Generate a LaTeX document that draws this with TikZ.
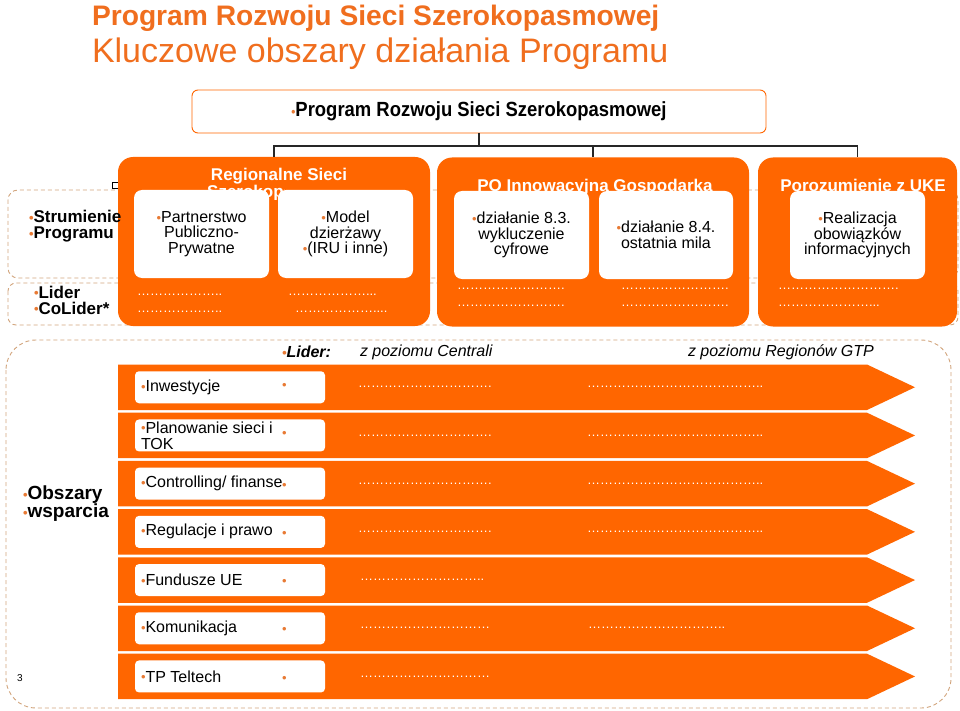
\documentclass[tikz,border=0pt]{standalone}
\usepackage{fontspec}
\setmainfont{Liberation Sans}
\newfontfamily\condfont[FakeStretch=0.9]{Liberation Sans}
\definecolor{org}{RGB}{255,102,0}
\definecolor{ttl}{RGB}{240,110,30}
\definecolor{bul}{RGB}{232,122,52}
\definecolor{dashc}{RGB}{210,165,125}
\newcommand\fs[2]{\fontsize{#1}{#2}\selectfont}
\newcommand\bult{{\color{bul}\fontsize{13}{13}\selectfont\raisebox{0.3pt}{•}}}
\ExplSyntaxOn
\NewDocumentCommand\dotrun{mm}{\prg_replicate:nn{#1}{…}\prg_replicate:nn{#2}{.}}
\ExplSyntaxOff
\begin{document}
\begin{tikzpicture}[x=1pt,y=-1pt,
  every node/.style={inner sep=0pt, outer sep=0pt},
  panel/.style={fill=org, rounded corners=15pt, minimum height=169pt},
  wbox/.style={fill=white, rounded corners=8pt, minimum width=135pt, minimum height=88pt, align=center, font=\fs{16}{15.5}, text=black},
  rbox/.style={fill=white, rounded corners=4pt, minimum width=190pt, minimum height=32pt},
  rtext/.style={anchor=west, align=left, font=\fs{16}{16}},
  dotstxt/.style={anchor=west, text=white, font=\fs{13}{13}},
  ptitle/.style={anchor=base, text=white, font=\bfseries\fs{17}{17}},
  lbl/.style={anchor=west, align=left, font=\bfseries\fs{17}{16}},
  dashbox/.style={draw=dashc, dash pattern=on 4pt off 3pt, line width=0.9pt},
  conn/.style={draw=black!85, line width=1.1pt}]
\useasboundingbox (0,0) rectangle (960,711);
\fill[white] (0,0) rectangle (960,711);
% titles
\node[anchor=base west, text=ttl, font=\bfseries\fs{28.2}{28}] (t1) at (92,26) {Program Rozwoju Sieci Szerokopasmowej};
\node[anchor=base west, text=ttl, font=\fs{34}{34}] (t2) at (92,63) {Kluczowe obszary działania Programu};
% top box
\node[draw=org, line width=0.9pt, fill=white, rounded corners=6pt, minimum width=574pt, minimum height=43pt, font=\condfont\bfseries\fs{20.5}{20.5}] (top) at (479,111.5) {\bult Program Rozwoju Sieci Szerokopasmowej};
% dashed rows
\draw[dashbox, rounded corners=10pt] (8,190) rectangle (958,278);
\draw[dashbox, rounded corners=8pt] (8,283) rectangle (958,325);
\node[draw=black, line width=0.6pt, minimum size=6pt] (hnd) at (115,185) {};
% panels
\node[panel, minimum width=312pt] (p1) at (274,241.5) {};
\node[panel, minimum width=312pt] (p2) at (593,242) {};
\node[panel, minimum width=199pt] (p3) at (857.5,242) {};
% panel titles
\node[ptitle] (p1t) at (279,181) {Regionalne Sieci};
\begin{scope}
\clip (118,150) rectangle (284,200);
\node[ptitle] (p1t2) at (279,198) {Szerokopasmowe};
\end{scope}
\node[ptitle] (p2t) at (595,192) {PO Innowacyjna Gospodarka};
\node[ptitle] (p3t) at (863,192) {Porozumienie z UKE};
% white boxes
\node[wbox] (ba) at (201.5,234) {\bult Partnerstwo\\Publiczno-\\Prywatne};
\node[wbox] (bb) at (345.5,234) {\bult Model\\dzierżawy\\\bult (IRU i inne)};
\node[wbox] (bc) at (521.5,235) {\bult działanie 8.3.\\wykluczenie\\cyfrowe};
\node[wbox, minimum width=134pt] (bd) at (666,235) {\bult działanie 8.4.\\ostatnia mila};
\node[wbox] (be) at (857.5,235) {\bult Realizacja\\obowiązków\\informacyjnych};
% panel dots
\node[dotstxt] (d11) at (137,295) {\dotrun{6}{2}};
\node[dotstxt] (d12) at (137,312) {\dotrun{6}{2}};
\node[dotstxt] (d13) at (288,295) {\dotrun{6}{3}};
\node[dotstxt] (d14) at (295,312) {\dotrun{6}{4}};
\node[dotstxt] (d21) at (457,288.5) {\dotrun{8}{1}};
\node[dotstxt] (d22) at (457,306) {\dotrun{8}{1}};
\node[dotstxt] (d23) at (621,288.5) {\dotrun{8}{1}};
\node[dotstxt] (d24) at (621,306) {\dotrun{8}{1}};
\node[dotstxt] (d31) at (778,288.5) {\dotrun{9}{1}};
\node[dotstxt] (d32) at (778,306) {\dotrun{7}{3}};
% connectors
\draw[conn] (top.south) -- ++(0,13) coordinate (jn);
\draw[conn] (jn) -| (p1.north);
\draw[conn] (jn) -| (p2.north);
\draw[conn] (jn) -| (p3.north);
% left labels
\node[lbl] (strm) at (29,226) {\bult Strumienie\\\bult Programu};
\node[lbl] (lid) at (34,300) {\bult Lider\\\bult CoLider*};
% lower section
\draw[dashbox, rounded corners=30pt] (6,340) rectangle (951,708);
\node[anchor=west, font=\bfseries\itshape\fs{16}{16}] (hl) at (282,352) {\bult Lider:};
\node[anchor=west, font=\itshape\fs{16}{16}] (hc) at (360,352) {z poziomu Centrali};
\node[anchor=west, font=\itshape\fs{16}{16}] (hr) at (688,352) {z poziomu Regionów GTP};
\foreach \i in {1,...,7}{
  \pgfmathsetmacro\tp{364.5+48.2*(\i-1)}
  \pgfmathsetmacro\bt{\tp+45.5}
  \pgfmathsetmacro\cc{\tp+22.75}
  \fill[org] (118,\tp) -- (867,\tp) -- (915,\cc) -- (867,\bt) -- (118,\bt) -- cycle;
  \node[rbox] (r\i) at (230,\cc) {};
}
\node[rtext] (rt1) at ([xshift=6pt]r1.west) {\bult Inwestycje};
\node[rtext] (rt2) at ([xshift=6pt]r2.west) {\bult Planowanie sieci i\\TOK};
\node[rtext] (rt3) at ([xshift=6pt]r3.west) {\bult Controlling/ finanse};
\node[rtext] (rt4) at ([xshift=6pt]r4.west) {\bult Regulacje i prawo};
\node[rtext] (rt5) at ([xshift=6pt]r5.west) {\bult Fundusze UE};
\node[rtext] (rt6) at ([xshift=6pt]r6.west) {\bult Komunikacja};
\node[rtext] (rt7) at ([xshift=6pt]r7.west) {\bult TP Teltech};
\node[anchor=base west] (sb1) at ([xshift=-43pt,yshift=-3pt]r1.east) {\bult};
\node[anchor=base west] (sb2) at ([xshift=-43pt,yshift=-2pt]r2.east) {\bult};
\node[anchor=base west] (sb3) at ([xshift=-43pt,yshift=-6pt]r3.east) {\bult};
\node[anchor=base west] (sb4) at ([xshift=-43pt,yshift=-6pt]r4.east) {\bult};
\node[anchor=base west] (sb5) at ([xshift=-43pt,yshift=-6pt]r5.east) {\bult};
\node[anchor=base west] (sb6) at ([xshift=-43pt,yshift=-6pt]r6.east) {\bult};
\node[anchor=base west] (sb7) at ([xshift=-43pt,yshift=-6pt]r7.east) {\bult};
% row dots
\node[dotstxt] (e11) at ([xshift=33pt]r1.east) {\dotrun{10}{1}};
\node[dotstxt] (e12) at ([xshift=262pt]r1.east) {\dotrun{13}{2}};
\node[dotstxt] (e21) at ([xshift=33pt]r2.east) {\dotrun{10}{1}};
\node[dotstxt] (e22) at ([xshift=262pt]r2.east) {\dotrun{13}{2}};
\node[dotstxt] (e31) at ([xshift=33pt]r3.east) {\dotrun{10}{1}};
\node[dotstxt] (e32) at ([xshift=262pt]r3.east) {\dotrun{13}{2}};
\node[dotstxt] (e41) at ([xshift=33pt]r4.east) {\dotrun{10}{1}};
\node[dotstxt] (e42) at ([xshift=262pt]r4.east) {\dotrun{13}{2}};
\node[dotstxt] (e51) at ([xshift=35pt]r5.east) {\dotrun{9}{2}};
\node[dotstxt] (e61) at ([xshift=35pt]r6.east) {\dotrun{10}{0}};
\node[dotstxt] (e62) at ([xshift=263pt]r6.east) {\dotrun{10}{2}};
\node[dotstxt] (e71) at ([xshift=35pt]r7.east) {\dotrun{10}{0}};
\node[lbl, font=\bfseries\fs{19}{18}] (obs) at (23,504) {\bult Obszary\\\bult wsparcia};
\node[font=\fs{10}{10}] (pgno) at (20,678) {3};
\end{tikzpicture}
\end{document}
